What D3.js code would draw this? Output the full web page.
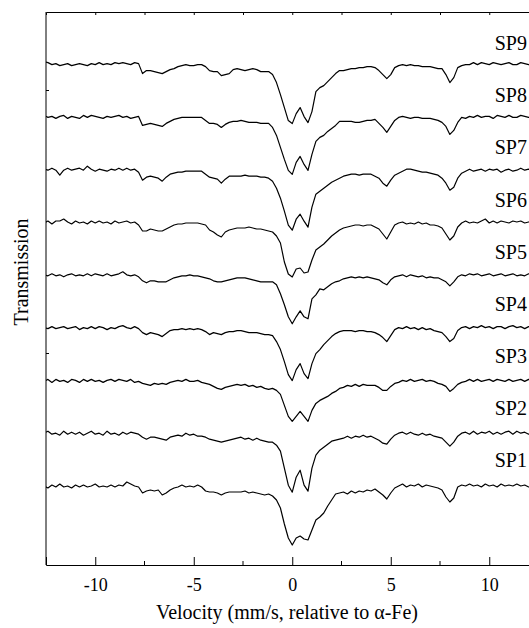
<!DOCTYPE html>
<html>
<head>
<meta charset="utf-8">
<script src="https://cdn.jsdelivr.net/npm/d3@7"></script>
<style>
  body { margin: 0; background: #fff; }
  svg { display: block; }
  text { font-family: "Liberation Serif", "Times New Roman", serif; fill: #000; }
</style>
</head>
<body>
<div id="canvas"></div>
<script>
// spectra names, bottom to top
const names = ["SP1", "SP2", "SP3", "SP4", "SP5", "SP6", "SP7", "SP8", "SP9"];
const xTicks = [-10, -5, 0, 5, 10];
const xMinor = [-7.5, -2.5, 2.5, 7.5];
const yTicks = [113.3, 139.6];

// channel velocities (mm/s), 0.2 mm/s per channel
const velocity = d3.range(125).map((k) => +(-12.6 + 0.2 * k).toFixed(1));

// absorption, in units of 0.1 % below the baseline
const sp1 = [0,2,-1,1,-2,1,0,2,-1,1, -1,1,0,-2,1,0,1,-1,1,-1, 0,-4,-2,0,1,7,5,4,5,4,
  9,7,4,2,1,-1,1,0,1,-1, 1,5,6,6,7,9,7,6,6,6, 6,5,7,6,7,8,9,8,10,14,
  22,38,52,59,52,50,53,54,44,34, 31,27,20,14,8,7,6,8,5,7, 5,6,4,5,3,6,9,13,7,2,
  0,-2,1,-1,0,-2,1,-1,0,1, 2,4,11,16,12,1,-1,0,-2,0, -1,1,-2,0,-1,1,-2,0,-1,0, -2,0,-1,1,-1];
const sp2 = [0,-2,1,0,2,-2,1,-1,1,-1, 2,0,-2,1,0,2,-2,1,0,2, -1,1,-1,0,1,4,6,4,4,5,
  6,7,4,3,2,3,0,2,1,3, 3,4,6,7,8,9,8,7,6,5, 4,6,5,7,5,7,8,9,9,12,
  18,35,52,59,44,37,52,58,35,22, 17,14,11,8,7,6,5,3,5,3, 4,2,4,3,5,7,10,11,6,2,
  0,-1,1,-1,1,2,0,2,1,3, 4,5,9,13,9,3,0,-1,1,-2, 1,-1,0,-2,1,-1,1,-1,-2,1, -2,0,-1,1,-1];
const sp3 = [1,-1,2,-1,1,0,2,-1,0,2, -1,1,-1,1,0,2,0,-1,1,-1, 0,1,-1,2,1,3,4,5,3,4,
  3,4,2,1,0,1,-1,1,1,0, 2,3,4,6,8,9,7,6,5,4, 5,4,6,5,7,6,8,9,8,10,
  14,25,36,41,36,31,36,41,30,23, 20,18,16,13,11,8,7,5,6,4, 6,4,5,5,5,7,10,10,6,3,
  2,0,1,-1,1,0,-1,1,0,1, 3,4,6,11,8,4,2,1,-1,1, -1,1,0,-1,1,-1,0,1,-1,1, 0,-1,1,-1,1];
const sp4 = [0,1,-1,1,0,-1,1,0,-1,2, 0,1,-1,1,-1,0,2,0,1,-1, -2,0,1,-1,1,5,7,5,6,7,
  9,6,3,2,2,1,2,1,2,1, 2,4,7,5,6,7,5,4,4,3, 3,4,5,5,5,6,7,7,8,14,
  22,34,47,53,42,36,46,51,36,26, 22,17,13,9,6,4,3,3,3,4, 3,3,4,4,5,7,10,14,8,2,
  0,1,-1,1,0,2,0,2,1,3, 4,5,9,14,11,3,0,-1,1,-1, 0,-2,0,-1,1,-1,-1,1,-1,-2, 0,-1,1,-1,0];
const sp5 = [0,1,-1,1,0,2,0,-1,1,0, 1,-1,1,-1,0,1,-1,1,0,-1, -3,0,1,0,2,6,8,6,6,7,
  7,7,5,3,2,1,1,0,1,1, 2,3,4,6,7,7,6,5,4,3, 3,3,4,5,6,7,7,7,7,10,
  19,30,42,49,42,36,42,44,24,20, 14,15,12,9,7,6,4,3,2,3, 2,3,2,3,4,5,8,10,5,2,
  1,0,2,0,1,2,1,3,2,3, 3,5,7,11,7,2,0,1,-1,0, -1,1,0,-1,1,0,-1,1,0,-1, 1,0,1,-1,0];
const sp6 = [1,-1,2,-1,-1,-3,0,2,-1,1, 0,2,-1,1,-1,1,0,2,-1,1, 0,-1,1,0,3,9,9,7,8,9,
  9,7,5,3,2,2,1,1,1,1, 2,3,8,10,13,15,10,8,7,6, 6,6,5,6,7,7,8,9,10,14,
  21,40,52,55,47,46,51,50,38,28, 25,22,18,14,11,8,6,5,4,3, 3,4,3,3,5,7,12,17,10,3,
  1,0,2,1,2,0,2,1,3,3, 4,6,12,18,14,5,1,-1,1,0, 1,-1,-3,1,-1,1,-1,0,1,-1, 0,-1,1,0,-1];
const sp7 = [0,1,-1,1,6,1,-1,1,0,-1, 1,-3,0,2,0,1,2,0,1,-1, 1,-1,1,0,3,11,8,7,8,9,
  12,8,5,4,3,3,2,2,2,2, 2,5,8,9,10,14,10,7,7,7, 7,6,7,7,7,8,8,9,12,19,
  29,42,56,61,50,45,52,58,38,25, 22,19,16,13,11,9,7,6,5,5, 6,5,5,5,7,9,14,17,11,6,
  4,2,0,0,1,2,3,3,4,5, 6,9,14,21,18,9,4,2,0,2, 1,0,2,0,1,0,3,1,0,2, 1,-1,1,0,2];
const sp8 = [-1,1,0,2,0,-1,2,0,1,2, -1,1,-1,0,1,2,0,1,0,-1, 1,0,2,1,0,9,8,7,8,9,
  10,7,5,3,2,1,1,1,1,1, 1,4,7,7,8,11,8,6,5,5, 4,5,6,6,6,7,7,7,11,19,
  31,43,54,58,46,40,48,54,38,25, 21,19,15,12,9,5,5,5,5,6, 6,5,4,4,3,7,11,16,10,4,
  1,0,1,2,1,1,2,2,2,3, 4,6,10,18,14,6,1,2,0,1, -1,1,0,0,2,-1,0,1,-1,1, 1,-1,0,1,0];
const sp9 = [-2,-1,1,0,2,1,0,2,1,0, 1,2,0,1,-1,1,0,1,-1,0, -1,0,1,-1,0,10,7,7,8,9,
  10,8,6,5,3,2,1,2,2,1, 1,3,7,8,8,12,11,10,6,5, 6,7,6,5,6,8,8,8,11,19,
  31,44,57,60,50,44,53,59,48,28, 24,22,18,14,10,7,7,6,5,5, 4,4,3,3,4,7,11,15,11,4,
  2,1,2,1,2,2,3,3,3,4, 5,5,11,19,14,4,2,1,1,-1, 1,-1,0,1,-1,0,1,0,-1,1, 1,-1,0,1,0];

const spectra = [sp1, sp2, sp3, sp4, sp5, sp6, sp7, sp8, sp9];
const stepOffset = 5.28; // vertical shift between spectra, in %

const width = 529;
const height = 628;
const margin = { top: 12, left: 46, bottom: 63 };
const plotRight = 538.5;

const svg = d3.select("#canvas").append("svg")
  .attr("width", width)
  .attr("height", height);

const x = d3.scaleLinear().domain([-12.5, 12.5]).range([margin.left, plotRight]);
const y = d3.scaleLinear().domain([92.1, 147.4]).range([height - margin.bottom, margin.top]);

svg.append("clipPath").attr("id", "clip")
  .append("rect")
  .attr("x", margin.left).attr("y", margin.top)
  .attr("width", plotRight - margin.left)
  .attr("height", height - margin.bottom - margin.top);

const line = d3.line()
  .x((d) => x(d[0]))
  .y((d) => y(d[1]));

svg.append("g").attr("clip-path", "url(#clip)")
  .selectAll("path")
  .data(spectra)
  .join("path")
  .attr("fill", "none")
  .attr("stroke", "#000")
  .attr("stroke-width", 1.2)
  .attr("stroke-linejoin", "round")
  .attr("d", (s, i) => line(s.map((a, k) => [velocity[k], 100 - a / 10 + i * stepOffset])));

// spectrum labels
svg.append("g")
  .selectAll("text")
  .data(names)
  .join("text")
  .attr("x", 527)
  .attr("y", (d, i) => y(100 + i * 5.21) - 19)
  .attr("text-anchor", "end")
  .style("font-size", "20px")
  .text((d) => d);

const bottom = height - margin.bottom;

// bottom axis, ticks pointing inward
const gx = svg.append("g")
  .attr("transform", `translate(0,${bottom})`)
  .call(d3.axisBottom(x).tickValues(xTicks).tickSize(-8).tickPadding(13).tickFormat((d) => String(d)));
gx.selectAll("text").style("font-size", "18px").style("font-family", "'Liberation Serif', serif");
gx.append("g").selectAll("line")
  .data(xMinor).join("line")
  .attr("x1", (d) => x(d)).attr("x2", (d) => x(d))
  .attr("y1", 0).attr("y2", -4)
  .attr("stroke", "#000");

// top axis
svg.append("g")
  .attr("transform", `translate(0,${margin.top})`)
  .call(d3.axisTop(x).tickValues(xTicks.concat(xMinor)).tickSize(-3).tickFormat(""));

// left axis, no labels
svg.append("g")
  .attr("transform", `translate(${margin.left},0)`)
  .call(d3.axisLeft(y).tickValues(yTicks).tickSize(-3).tickFormat(""))
  .select(".domain").attr("d", `M0,${margin.top}V${bottom}`);

svg.selectAll(".domain").attr("stroke", "#000");
svg.selectAll(".tick line").attr("stroke", "#000");

// axis titles
svg.append("text")
  .attr("x", 287)
  .attr("y", 619)
  .attr("text-anchor", "middle")
  .style("font-size", "20px")
  .text("Velocity (mm/s, relative to α-Fe)");

svg.append("text")
  .attr("transform", "translate(28,272) rotate(-90)")
  .attr("text-anchor", "middle")
  .style("font-size", "20px")
  .text("Transmission");
</script>
</body>
</html>
